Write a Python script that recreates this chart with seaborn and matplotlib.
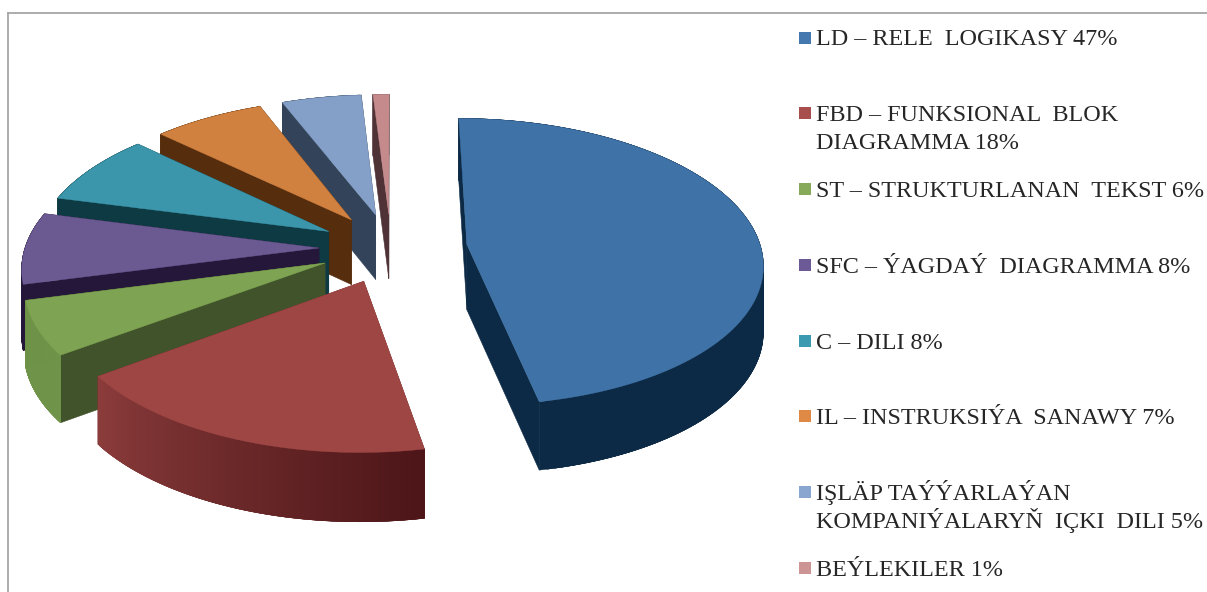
import numpy as np
import matplotlib
matplotlib.use("Agg")
import matplotlib.pyplot as plt
import seaborn as sns
from matplotlib.patches import Rectangle

# ---- data -------------------------------------------------------------
labels = ["LD – RELE  LOGIKASY 47%",
          "FBD – FUNKSIONAL  BLOK\nDIAGRAMMA 18%",
          "ST – STRUKTURLANAN  TEKST 6%",
          "SFC – ÝAGDAÝ  DIAGRAMMA 8%",
          "C – DILI 8%",
          "IL – INSTRUKSIÝA  SANAWY 7%",
          "IŞLÄP TAÝÝARLAÝAN\nKOMPANIÝALARYŇ  IÇKI  DILI 5%",
          "BEÝLEKILER 1%"]
values = [47, 18, 6, 8, 8, 7, 5, 1]

top_colors = ["#3F72A6", "#9E4644", "#7EA352", "#6B5A92", "#3C96AB", "#D0803F", "#84A0C8", "#C48A8C"]
key_colors = ["#4478AE", "#A84E4C", "#86AA5A", "#6C5A96", "#3C9AB0", "#DE8A46", "#88A6D0", "#CC9495"]
cut_colors = ["#0C2A45", "#6E2C2C", "#40532A", "#25173A", "#0D3A43", "#562D0D", "#33445A", "#4F3236"]
band_from  = ["#0C2A45", "#8B3C3B", "#6F9348", "#25173A", "#0D3A43", "#562D0D", "#33445A", "#4F3236"]
band_to    = ["#0C2A45", "#4C1518", "#6F9348", "#25173A", "#0D3A43", "#562D0D", "#33445A", "#4F3236"]
explode    = [0.26, 0.245, 0.245, 0.245, 0.245, 0.245, 0.245, 0.245]

# ---- layout -----------------------------------------------------------
W, H = 1207, 592
CX, CY = 391, 248      # pie centre, px
AX, BY = 294, 142      # px per pie radius, horizontally / vertically
PERSP = 0.12           # perspective strength
DEPTH = 0.46           # extrusion in axis units
DEPTH_SLOPE = 0.05     # the extrusion grows towards the viewer
FONT = 17.4
key_y = [38, 113, 189, 265, 341, 416, 492, 568]
text_y = [45, 121, 197, 273, 349, 424, 500, 576]

sns.set_theme(style="white")
plt.rcParams["font.family"] = ["Liberation Serif", "DejaVu Serif"]
fig = plt.figure(figsize=(W / 100, H / 100), dpi=100, facecolor="white")

# frame: only the left and the top edge fall inside the picture
frame = fig.add_axes([8 / W, -0.1, 1.1, 1.1 - 12.5 / H])
frame.set(xticks=[], yticks=[])
for name, spine in frame.spines.items():
    spine.set_visible(name in ("top", "left"))
    spine.set_color("#A6A6A6")
    spine.set_linewidth(1.3)

ax = fig.add_axes([0, 0, 1, 1])
ax.patch.set_alpha(0)
wedges, _ = ax.pie(values, explode=explode, startangle=90,
                   counterclock=False, radius=1)
ax.set_aspect("auto")
ax.set_xlim(-CX / AX, (W - CX) / AX)
ax.set_ylim(-(H - CY) / BY, CY / BY)
ax.set_axis_off()


def project(x, y):
    y = np.asarray(y)
    s = 1 + PERSP * y
    return np.asarray(x) / s, y / s, y / s - DEPTH * (1 - DEPTH_SLOPE * y)


def mix(c0, c1, t):
    a, b = np.array(matplotlib.colors.to_rgb(c0)), np.array(matplotlib.colors.to_rgb(c1))
    return a + (b - a) * t


# painter's order: the last slice at the back first, the big blue one last
for i in [7, 6, 5, 4, 3, 2, 1, 0]:
    w = wedges[i]
    w.set_visible(False)
    cx, cy = w.center
    th = np.radians(np.linspace(w.theta1, w.theta2, 120))
    ox, oy = cx + w.r * np.cos(th), cy + w.r * np.sin(th)
    px, py, pb = project(ox, oy)
    a0, b0, c0 = project(cx, cy)
    z = 2 + (7 - i) * 3
    # flat cut faces
    for end in (0, -1):
        ax.fill([a0, px[end], px[end], a0], [b0, py[end], pb[end], c0],
                color=cut_colors[i], lw=0.4, zorder=z)
    # curved outer band in overlapping steps, so that it shows no seams
    n = len(th) - 1
    for k in range(n):
        e = min(k + 3, n) + 1
        ax.fill(np.r_[px[k:e], px[k:e][::-1]], np.r_[py[k:e], pb[k:e][::-1]],
                color=mix(band_from[i], band_to[i], k / n), lw=0.3, zorder=z + 1)
    # top face
    ax.fill(np.r_[a0, px], np.r_[b0, py], color=top_colors[i], lw=0.3, zorder=z + 2)

# legend
for lab, col, ky, ty in zip(labels, key_colors, key_y, text_y):
    fig.add_artist(Rectangle((799 / W, 1 - (ky + 6) / H), 12 / W, 12 / H,
                             transform=fig.transFigure, color=col, lw=0))
    for j, line in enumerate(lab.split("\n")):
        fig.text(816 / W, 1 - (ty + 28 * j) / H, line, fontsize=FONT,
                 color="#262626", va="baseline", ha="left")

fig.savefig("out.png", dpi=100, facecolor="white")
